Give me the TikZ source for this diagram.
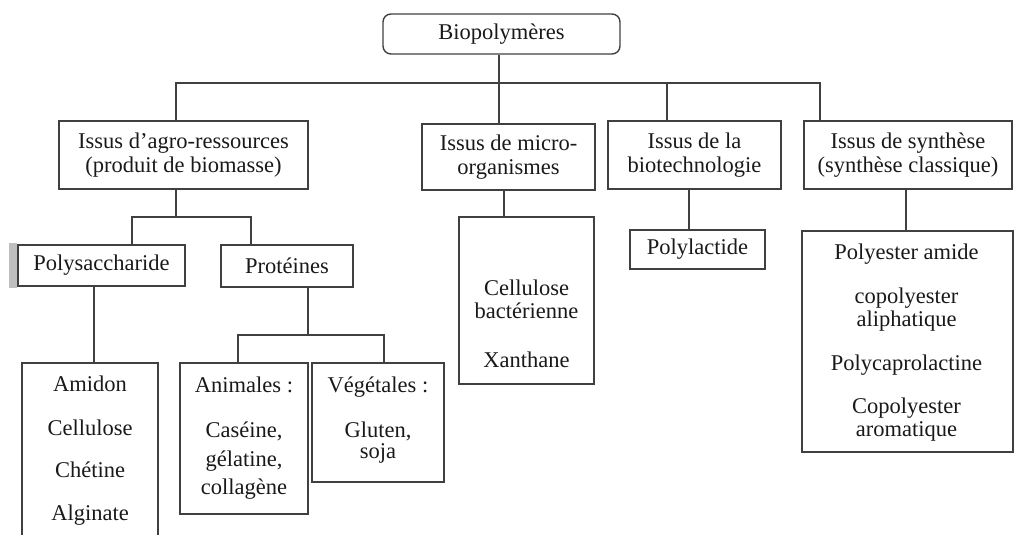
\documentclass[tikz,border=0pt]{standalone}
\usepackage{fontspec}
\setmainfont{Liberation Serif}

\begin{document}
\begin{tikzpicture}[x=1pt, y=-1pt,
  font=\fontsize{22.5}{24}\selectfont, text=black!90,
  catbox/.style={draw=black!75, line width=1.4pt, inner sep=0pt, align=center},
  dims/.style 2 args={minimum width=#1pt, minimum height=#2pt},
  txt/.style={anchor=base, inner sep=0pt},
  link/.style={draw=black!75, line width=1.4pt}]

\useasboundingbox (0,0) rectangle (1014,535);
\clip (0,0) rectangle (1014,535);

% Root
\node[catbox, dims={237}{40}, rounded corners=8pt] (root) at (501.5,34) {Biopolymères};

% Four families
\node[catbox, dims={249}{68}] (agro) at (183.5,155) {Issus d'agro-ressources\\(produit de biomasse)};
\node[catbox, dims={173}{66}] (micro) at (508.5,157) {Issus de micro-\\organismes};
\node[catbox, dims={173}{68}] (biotech) at (694.5,155) {Issus de la\\biotechnologie};
\node[catbox, dims={208}{68}] (synth) at (908,155) {Issus de synthèse\\(synthèse classique)};

% Second level
\node[catbox, dims={167}{41}] (polysac) at (101.5,265.5) {Polysaccharide};
\node[catbox, dims={132}{42}] (prot) at (287,266) {Protéines};
\node[catbox, dims={135}{39}] (polylac) at (697.5,249.5) {Polylactide};

% List boxes
\node[catbox, dims={136}{190}] (polylist) at (90,458) {};
\node[catbox, dims={128}{151}] (animal) at (244,438.5) {};
\node[catbox, dims={132}{119}] (veget) at (378,422.5) {};
\node[catbox, dims={135}{167}] (microlist) at (526.5,300.5) {};
\node[catbox, dims={211}{221}] (synthlist) at (907.5,341.5) {};

% List texts
\foreach \t/\y [count=\i] in {Amidon/391, Cellulose/435, Chétine/477, Alginate/520}
  \node[txt] (poly\i) at (90,\y) {\t};
\foreach \t/\y [count=\i] in {Animales :/392, {Caséine,}/437, {gélatine,}/466, collagène/494}
  \node[txt] (anim\i) at (244,\y) {\t};
\foreach \t/\y [count=\i] in {Végétales :/392, {Gluten,}/437, soja/458}
  \node[txt] (veg\i) at (378,\y) {\t};
\foreach \t/\y [count=\i] in {Cellulose/295, bactérienne/318, Xanthane/367}
  \node[txt] (bact\i) at (526.5,\y) {\t};
\foreach \t/\y [count=\i] in {Polyester amide/259, copolyester/303, aliphatique/326,
    Polycaprolactine/370, Copolyester/413, aromatique/436}
  \node[txt] (syn\i) at (906.5,\y) {\t};

% Top bar
\coordinate (top) at (499,83);
\coordinate (topL) at (176,83);
\coordinate (topB) at (667,83);
\coordinate (topR) at (820,83);
\draw[link] (top |- root.south) -- (top);
\draw[link] (topL |- agro.north) |- (topR) -- (topR |- synth.north);
\draw[link] (top) -- (top |- micro.north);
\draw[link] (topB) -- (topB |- biotech.north);

% Agro branch
\coordinate (agroL) at (132,217);
\coordinate (agroR) at (251,217);
\draw[link] (agro.south -| 176,0) -- (176,217);
\draw[link] (agroL |- polysac.north) |- (agroR) -- (agroR |- prot.north);
\draw[link] (polysac.south -| 94,0) -- (polylist.north -| 94,0);

% Protein branch
\coordinate (protL) at (238,335);
\coordinate (protR) at (384,335);
\draw[link] (prot.south -| 308,0) -- (308,335);
\draw[link] (protL |- animal.north) |- (protR) -- (protR |- veget.north);

% Other stems
\draw[link] (micro.south -| 504,0) -- (microlist.north -| 504,0);
\draw[link] (biotech.south -| 689,0) -- (polylac.north -| 689,0);
\draw[link] (synth.south -| 906,0) -- (synthlist.north -| 906,0);

% scan mark
\fill[black!25] (9,243) rectangle (17,288);

\end{tikzpicture}
\end{document}
